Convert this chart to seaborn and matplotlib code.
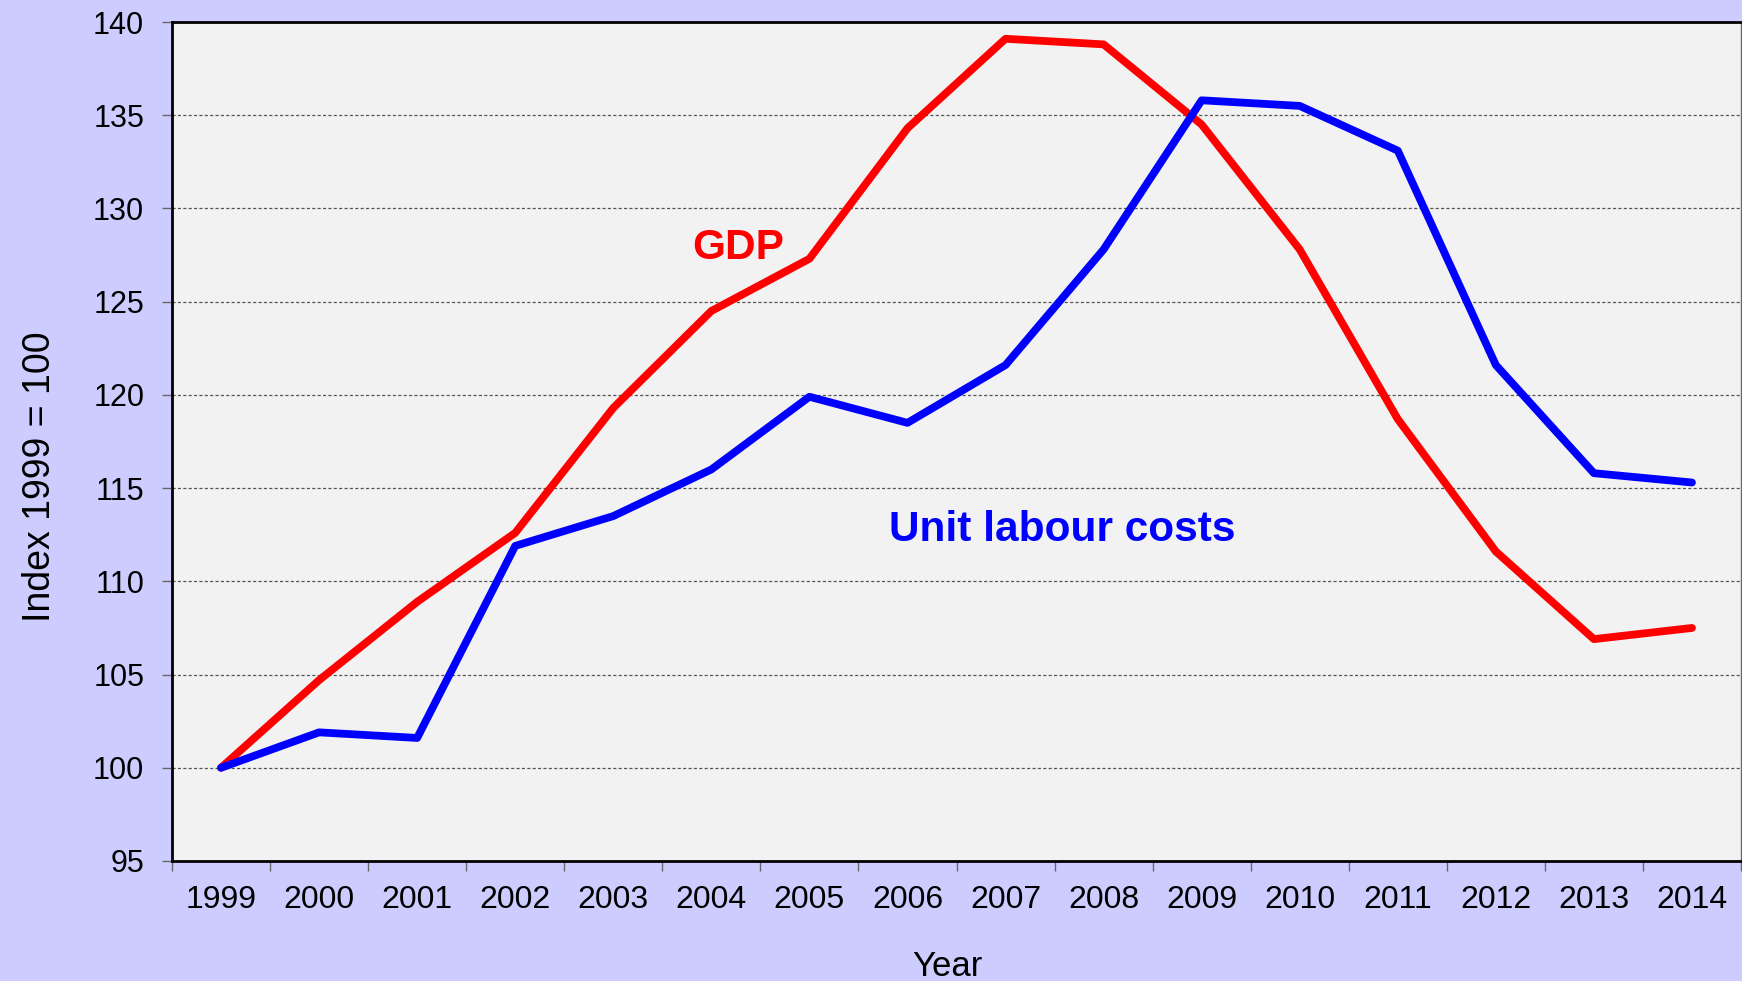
# IMPORTS

import pandas as pd
import seaborn as sns
import matplotlib.pyplot as plt
from matplotlib.ticker import FixedLocator

sns.set_style("ticks")
plt.rcParams["font.family"] = ["Liberation Sans", "DejaVu Sans"]

# DATA

years = [str(y) for y in range(1999, 2015)]
gdp = [100, 104.7, 108.9, 112.6, 119.3, 124.5, 127.3, 134.3,
       139.1, 138.8, 134.5, 127.8, 118.7, 111.6, 106.9, 107.5]
ulc = [100, 101.9, 101.6, 111.9, 113.5, 116.0, 119.9, 118.5,
       121.6, 127.8, 135.8, 135.5, 133.1, 121.6, 115.8, 115.3]
series_names = ["GDP", "Unit labour costs"]
y_ticks = [95, 100, 105, 110, 115, 120, 125, 130, 135, 140]

df = pd.DataFrame({
    "Year": years * 2,
    "Index": gdp + ulc,
    "Series": [series_names[0]] * len(years) + [series_names[1]] * len(years),
})

# VISUALIZATION

fig = plt.figure(figsize=(17.42, 9.81), dpi=100, facecolor="#CCCCFF")
ax = fig.add_axes([172 / 1742, 1 - 861 / 981, 1569 / 1742, 839 / 981])
ax.set_facecolor("#F2F2F2")

sns.lineplot(
    data=df, x="Year", y="Index", hue="Series",
    palette={"GDP": "#FF0000", "Unit labour costs": "#0000FF"},
    linewidth=5.6, sort=False, legend=False, ax=ax,
    solid_capstyle="round", solid_joinstyle="round",
)

# Axes limits and ticks
ax.set_xlim(-0.5, len(years) - 0.5)
ax.set_ylim(95, 140)
ax.set_yticks(y_ticks)
ax.xaxis.set_minor_locator(FixedLocator([i - 0.5 for i in range(len(years) + 1)]))
ax.tick_params(axis="x", which="major", length=0, pad=17, labelsize=23, labelcolor="black")
ax.tick_params(axis="x", which="minor", length=7, width=1, color="#666666")
ax.tick_params(axis="y", length=7, width=1, color="#666666", pad=13, labelsize=22, labelcolor="black")

# Grid
ax.yaxis.grid(True, color="#555555", linewidth=0.9, linestyle=(0, (2.5, 1.8)))
ax.xaxis.grid(False)

# Spines
for side in ["left", "bottom", "top"]:
    ax.spines[side].set_color("black")
    ax.spines[side].set_linewidth(2)
ax.spines["right"].set_color("#666666")
ax.spines["right"].set_linewidth(1)
ax.spines["top"].set_visible(True)
ax.spines["right"].set_visible(True)

# Labels
ax.set_xlabel("Year", fontsize=25, color="black", va="baseline")
ax.xaxis.set_label_coords(0.494, -0.137)
ax.set_ylabel("Index 1999 = 100", fontsize=27, color="black", va="center")
ax.yaxis.set_label_coords(-0.084, 0.458)

# Series annotations
ax.text(5.27, 127.3, "GDP", color="#FF0000", fontsize=30.5, fontweight="bold",
        ha="center", va="baseline")
ax.text(8.58, 112.16, "Unit labour costs", color="#0000FF", fontsize=30.5,
        fontweight="bold", ha="center", va="baseline")

fig.savefig("out.png", dpi=100, facecolor=fig.get_facecolor())
